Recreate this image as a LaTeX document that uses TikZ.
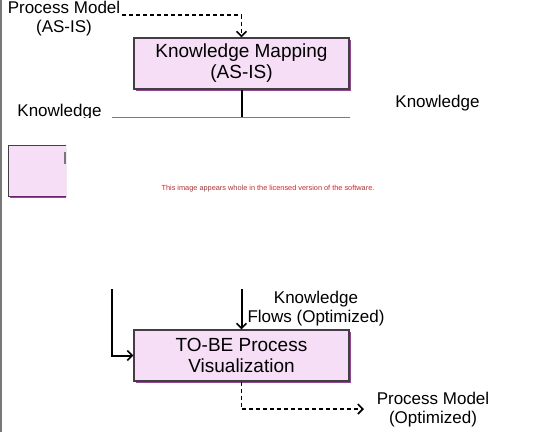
\documentclass[tikz,border=0pt]{standalone}
\usepackage{fontspec}
\setmainfont{Liberation Sans}
\usetikzlibrary{arrows.meta,shadows}
\definecolor{boxfill}{RGB}{246,222,246}
\definecolor{boxline}{RGB}{64,64,64}
\definecolor{shadowmag}{RGB}{190,40,190}
\definecolor{wmred}{RGB}{190,40,45}
\definecolor{rulegray}{RGB}{120,120,120}
\begin{document}
\begin{tikzpicture}[x=1pt,y=-1pt,
  procbox/.style={draw=boxline, line width=1.2pt, fill=boxfill, minimum width=215pt,
    minimum height=51pt, inner sep=0pt, align=center, font=\fontsize{19}{21}\selectfont,
    drop shadow={shadow xshift=1.5pt, shadow yshift=-1.5pt, fill=shadowmag, opacity=1}},
  lbl/.style={align=center, font=\fontsize{17}{19}\selectfont, inner sep=0pt, anchor=base},
  flow/.style={line width=2pt, -{Straight Barb[length=5pt,width=10pt,line width=1.6pt]}},
  dflow/.style={line width=1.6pt, dash pattern=on 4pt off 3pt, -{Straight Barb[length=5pt,width=10pt,line width=1.6pt]}},
  plain/.style={line width=2pt}
]
\useasboundingbox (0,0) rectangle (550,432);
% left border
\coordinate (bt) at (1,0);
\coordinate (bb) at (1,432);
\draw[rulegray, line width=1.5pt] (bt) -- (bb);

% top tile
\node[procbox] (map) at (241.5,63.5) {Knowledge Mapping\\(AS-IS)};
\node[lbl] (pmin) at (64,32) {Process Model\\(AS-IS)};
\coordinate (pmstart) at (122,15);
\draw[dflow] (pmstart) -| (map.north);
\begin{scope}
  \clip (0,0) rectangle (550,117.5);
  \node[lbl] (kleft) at (59.5,116) {Knowledge};
\end{scope}
\node[lbl] (kright) at (437.5,107) {Knowledge};
\coordinate (mend) at (241.5,117);
\draw[plain] (map.south) -- (mend);
\coordinate (hl) at (112,117);
\coordinate (hr) at (350,117);
\draw[rulegray, line width=1pt] (hl) -- (hr);

% small partial box
\begin{scope}
  \clip (0,140) rectangle (66,202);
  \node[procbox, anchor=north west] (sbox) at (8,145) {};
\end{scope}
\coordinate (mk1) at (65,152);
\coordinate (mk2) at (65,164);
\draw[rulegray, line width=1.5pt] (mk1) -- (mk2);

% watermark
\node[font=\fontsize{7.35}{8}\selectfont, text=wmred, anchor=base, inner sep=0pt] (wm) at (268,190)
  {This image appears whole in the licensed version of the software.};

% bottom tile
\node[procbox] (tobe) at (241.5,355.5) {TO-BE Process\\Visualization};
\coordinate (lstart) at (112,289);
\draw[flow] (lstart) |- (tobe.west);
\coordinate (mstart) at (241.5,289);
\draw[flow] (mstart) -- (tobe.north);
\node[lbl] (kflows) at (316,322) {Knowledge\\Flows (Optimized)};
\coordinate (pmend) at (364,409);
\draw[dflow] (tobe.south) |- (pmend);
\node[lbl] (pmout) at (433,423) {Process Model\\(Optimized)};
\end{tikzpicture}
\end{document}
